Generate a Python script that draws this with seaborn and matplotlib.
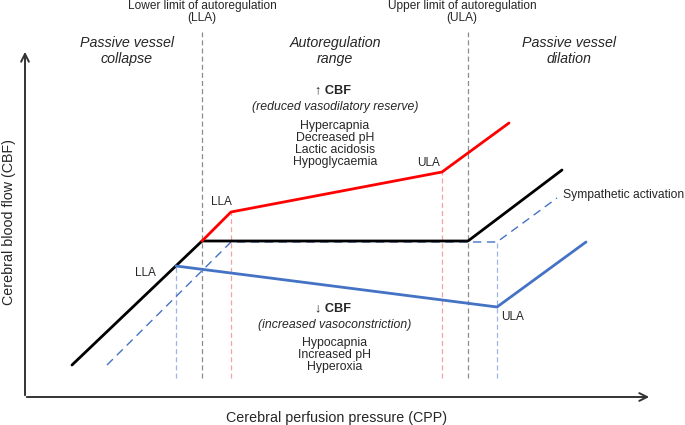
import matplotlib
matplotlib.use("Agg")
import matplotlib.pyplot as plt
import pandas as pd
import seaborn as sns

# schematic curves, in picture units (x = CPP, y = CBF)
normal_x = [72, 202, 468, 562]
normal_y = [60, 184, 184, 255]

high_x = [202, 231, 442, 509]          # raised CBF curve
high_y = [184, 213, 253, 302]

low_x = [176, 497, 586]                # lowered CBF curve
low_y = [159, 118, 183]

symp_x = [107, 231, 497, 557]          # sympathetic activation (shifted right)
symp_y = [60, 183, 183, 227]

# limits of autoregulation: (x, top of the guide line)
guide_x = [176, 202, 231, 442, 468, 497]
guide_top = [159, 393, 213, 253, 393, 183]
guide_col = ['#9db5e4', '#8c8c8c', '#f4a3a3', '#f4a3a3', '#8c8c8c', '#9db5e4']
guide_bottom = 47

sns.set_theme(style='white')
plt.rcParams['font.family'] = ['Liberation Sans', 'DejaVu Sans']

fig = plt.figure(figsize=(6.85, 4.25), dpi=100)
ax = fig.add_axes([0, 0, 1, 1])
ax.set_xlim(0, 685)
ax.set_ylim(0, 425)
ax.axis('off')

for gx, gt, gc in zip(guide_x, guide_top, guide_col):
    ax.vlines(gx, guide_bottom, gt, colors=gc, linestyles=(0, (4, 2.5)), lw=0.9, zorder=1)

sns.lineplot(x=symp_x, y=symp_y, ax=ax, sort=False, estimator=None, color='#4472c4',
             lw=1.0, linestyle=(0, (6, 4)), zorder=2)
sns.lineplot(x=normal_x, y=normal_y, ax=ax, sort=False, estimator=None, color='black', lw=2.0, zorder=3)
sns.lineplot(x=high_x, y=high_y, ax=ax, sort=False, estimator=None, color='#ff0000', lw=2.0, zorder=3)
sns.lineplot(x=low_x, y=low_y, ax=ax, sort=False, estimator=None, color='#4472c4', lw=2.0, zorder=3)

# axes with open arrow heads
ax.annotate('', xy=(652, 28), xytext=(24, 28),
            arrowprops=dict(arrowstyle='->', lw=1.4, color='#333333', mutation_scale=14))
ax.annotate('', xy=(25, 376), xytext=(25, 27),
            arrowprops=dict(arrowstyle='->', lw=1.4, color='#333333', mutation_scale=14))

ax.text(337, 7, 'Cerebral perfusion pressure (CPP)', ha='center', va='center', fontsize=10.3)
ax.text(9, 203, 'Cerebral blood flow (CBF)', ha='center', va='center', fontsize=10.3, rotation=90)

ax.text(202, 413, 'Lower limit of autoregulation\n(LLA)', ha='center', va='center',
        fontsize=8.6, linespacing=1.08)
ax.text(462, 413, 'Upper limit of autoregulation\n(ULA)', ha='center', va='center',
        fontsize=8.6, linespacing=1.08)

for hx, htxt in zip([127, 335, 569], ['Passive vessel\ncollapse', 'Autoregulation\nrange',
                                       'Passive vessel\ndilation']):
    ax.text(hx, 374, htxt, ha='center', va='center', fontsize=10.3, style='italic', linespacing=1.25)

ax.text(333, 335, '↑ CBF', ha='center', va='center', fontsize=9.2, fontweight='bold')
ax.text(335, 318, '(reduced vasodilatory reserve)', ha='center', va='center', fontsize=8.8, style='italic')
ax.text(335, 281, 'Hypercapnia\nDecreased pH\nLactic acidosis\nHypoglycaemia', ha='center', va='center',
        fontsize=8.8, linespacing=1.0)

ax.text(333, 117, '↓ CBF', ha='center', va='center', fontsize=9.2, fontweight='bold')
ax.text(335, 100, '(increased vasoconstriction)', ha='center', va='center', fontsize=8.8, style='italic')
ax.text(335, 70, 'Hypocapnia\nIncreased pH\nHyperoxia', ha='center', va='center',
        fontsize=8.8, linespacing=1.0)

ax.text(145, 152, 'LLA', ha='center', va='center', fontsize=8.5)
ax.text(221, 223, 'LLA', ha='center', va='center', fontsize=8.5)
ax.text(429, 262, 'ULA', ha='center', va='center', fontsize=8.5)
ax.text(513, 108, 'ULA', ha='center', va='center', fontsize=8.5)
ax.text(563, 230, 'Sympathetic activation', ha='left', va='center', fontsize=8.7)

fig.savefig('out.png', dpi=100)
